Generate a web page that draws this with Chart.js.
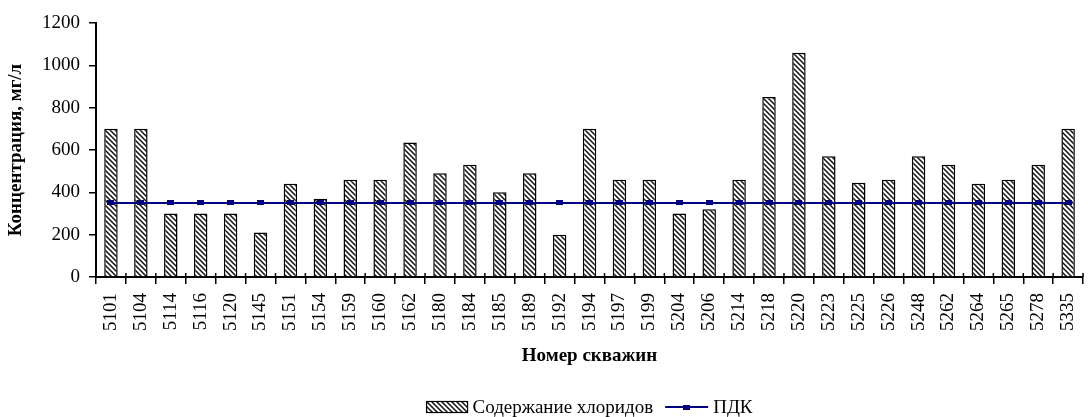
<!DOCTYPE html>
<html>
<head>
<meta charset="utf-8">
<script src="https://cdn.jsdelivr.net/npm/chart.js@4/dist/chart.umd.min.js"></script>
<style>
html,body{margin:0;padding:0;background:#fff;overflow:hidden;width:1088px;height:417px;}
#wrap{position:absolute;left:0;top:0;width:1100px;height:417px;}
</style>
</head>
<body>
<div id="wrap"><canvas id="c" width="1100" height="417"></canvas></div>
<script>
const categories = ['5101','5104','5114','5116','5120','5145','5151','5154','5159','5160','5162','5180','5184','5185','5189','5192','5194','5197','5199','5204','5206','5214','5218','5220','5223','5225','5226','5248','5262','5264','5265','5278','5335'];
const chlorides = [700,700,300,300,300,210,440,370,460,460,635,490,530,400,490,200,700,460,460,300,320,460,850,1060,570,445,460,570,530,440,460,530,700];
const pdk = [350,350,350,350,350,350,350,350,350,350,350,350,350,350,350,350,350,350,350,350,350,350,350,350,350,350,350,350,350,350,350,350,350];
const yTicks = [0,200,400,600,800,1000,1200];
const seriesNames = ['Содержание хлоридов','ПДК'];
const axisTitles = {x:'Номер скважин', y:'Концентрация, мг/л'};

const SERIF = '"Liberation Serif","Times New Roman",serif';

function makeHatch(){
  const s = 5;
  const c = document.createElement('canvas');
  c.width = s; c.height = s;
  const g = c.getContext('2d');
  g.fillStyle = '#fff'; g.fillRect(0,0,s,s);
  g.strokeStyle = '#111'; g.lineWidth = 1.5;
  g.beginPath();
  g.moveTo(-1,-1); g.lineTo(s+1,s+1);
  g.moveTo(-1,s-1); g.lineTo(1,s+1);
  g.moveTo(s-1,-1); g.lineTo(s+1,1);
  g.stroke();
  return g.createPattern(c,'repeat');
}
function makeMarker(){
  const c = document.createElement('canvas');
  c.width = 7; c.height = 5;
  const g = c.getContext('2d');
  g.fillStyle = '#000080'; g.fillRect(0,0,7,5);
  return c;
}
const hatch = makeHatch();
const marker = makeMarker();

const crossTicks = {
  id:'crossTicks',
  afterDatasetsDraw(chart){
    const x = chart.scales.x, ctx = chart.ctx, b = chart.chartArea.bottom;
    const n = categories.length;
    const half = (x.getPixelForValue(1) - x.getPixelForValue(0))/2;
    ctx.save();
    ctx.strokeStyle = '#000'; ctx.lineWidth = 1.5;
    ctx.beginPath();
    for(let i=0;i<=n;i++){
      const px = x.getPixelForValue(0) - half + i*2*half;
      ctx.moveTo(px, b-4); ctx.lineTo(px, b);
    }
    ctx.stroke();
    ctx.restore();
  }
};

const customLegend = {
  id:'customLegend',
  afterDraw(chart){
    const ctx = chart.ctx;
    const ca = chart.chartArea;
    ctx.save();
    ctx.font = '19px ' + SERIF;
    ctx.textBaseline = 'middle';
    const w1 = ctx.measureText(seriesNames[0]).width;
    const w2 = ctx.measureText(seriesNames[1]).width;
    const boxW = 41, boxH = 11, lineW = 43, gap = 5, sep = 12;
    const total = boxW + gap + w1 + sep + lineW + gap + w2;
    let x = (ca.left + ca.right)/2 - total/2;
    const y = 407;
    ctx.fillStyle = hatch;
    ctx.fillRect(x, y-boxH/2, boxW, boxH);
    ctx.strokeStyle = '#000'; ctx.lineWidth = 1.2;
    ctx.strokeRect(x, y-boxH/2, boxW, boxH);
    x += boxW + gap;
    ctx.fillStyle = '#000';
    ctx.fillText(seriesNames[0], x, y+1);
    x += w1 + sep;
    ctx.strokeStyle = '#000080'; ctx.lineWidth = 2;
    ctx.beginPath(); ctx.moveTo(x, y); ctx.lineTo(x+lineW, y); ctx.stroke();
    ctx.drawImage(marker, x+lineW/2-3.5, y-2.5);
    x += lineW + gap;
    ctx.fillStyle = '#000';
    ctx.fillText(seriesNames[1], x, y+1);
    ctx.restore();
  }
};

new Chart(document.getElementById('c'), {
  data:{
    labels: categories,
    datasets:[
      {type:'bar', label:seriesNames[0], data:chlorides, backgroundColor:hatch, borderColor:'#000', borderWidth:1.5, barPercentage:0.45, categoryPercentage:1, order:2},
      {type:'line', label:seriesNames[1], data:pdk, borderColor:'#000080', borderWidth:2, pointStyle:marker, pointRadius:3, pointBackgroundColor:'#000080', pointBorderWidth:0, tension:0, fill:false, order:1}
    ]
  },
  options:{
    responsive:false,
    animation:false,
    events:[],
    layout:{padding:{top:23,left:0,right:5,bottom:45}},
    plugins:{legend:{display:false}, tooltip:{enabled:false}},
    scales:{
      x:{
        type:'category',
        offset:true,
        afterFit(s){ s.height = 95; },
        grid:{offset:true, drawOnChartArea:false, drawTicks:true, tickLength:7, color:'#000', lineWidth:1.5},
        border:{display:true, color:'#000', width:2},
        ticks:{autoSkip:false, minRotation:90, maxRotation:90, padding:9, color:'#000', font:{family:SERIF, size:19}},
        title:{display:true, text:axisTitles.x, color:'#000', font:{family:SERIF, size:19, weight:'bold'}, padding:{top:5,bottom:5}}
      },
      y:{
        min:0, max:1200,
        afterFit(s){ s.width = 96; },
        afterBuildTicks(s){ s.ticks = yTicks.map(v=>({value:v})); },
        grid:{drawOnChartArea:false, drawTicks:true, tickLength:7, color:'#000', lineWidth:1.5},
        border:{display:true, color:'#000', width:2},
        ticks:{padding:9, color:'#000', font:{family:SERIF, size:19}, callback:(v)=>String(v)},
        title:{display:true, text:axisTitles.y, color:'#000', font:{family:SERIF, size:19, weight:'bold'}, padding:{top:5,bottom:5}}
      }
    }
  },
  plugins:[crossTicks, customLegend]
});
</script>
</body>
</html>
